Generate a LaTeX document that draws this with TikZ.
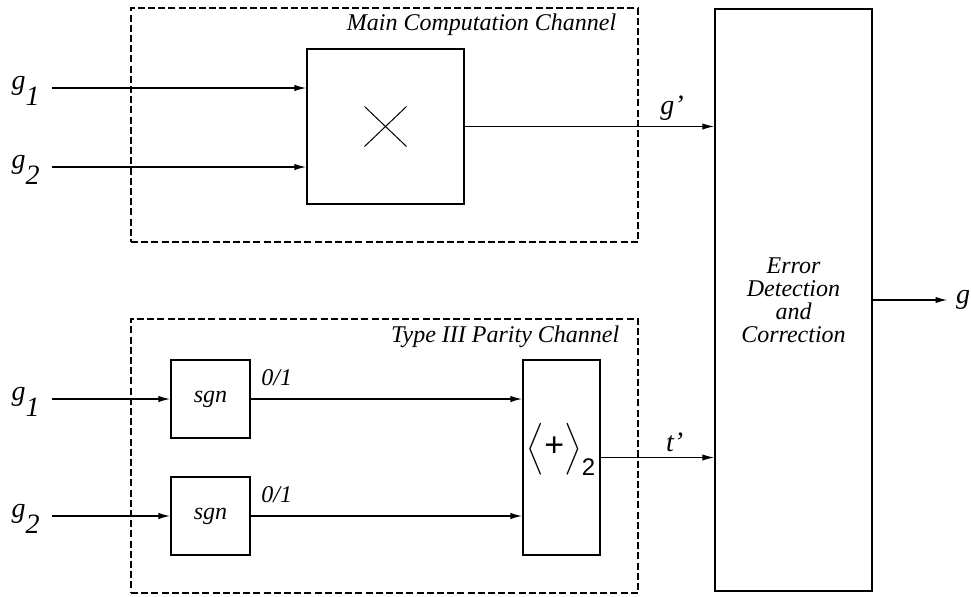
\documentclass[tikz,border=0pt]{standalone}
\usepackage{amsmath}
\usepackage{fontspec}
\setmainfont{Liberation Serif}
\setsansfont{Liberation Sans}
\usetikzlibrary{arrows.meta,positioning}

\begin{document}
\begin{tikzpicture}[
  x=0.5pt, y=-0.5pt,
  font=\fontsize{12}{11.5}\selectfont\itshape,
  box/.style={draw, line width=0.6pt, inner sep=0pt, align=center},
  chan/.style={draw, line width=0.7pt, dash pattern=on 3.5pt off 1.6pt, inner sep=0pt},
  title/.style={anchor=base east, inner sep=0pt},
  sig/.style={inner sep=0pt, font=\fontsize{14}{14}\selectfont\itshape},
  bit/.style={anchor=base west, inner sep=0pt, xshift=5pt, yshift=7pt},
  arrow/.style={-{Latex[length=6pt,width=3.2pt]}, line width=0.8pt}
]
\useasboundingbox (0,0) rectangle (971,596);

% the two channels
\node[chan, minimum width=253.5pt, minimum height=117pt] (mainch) at (384.5,125) {};
\node[chan, minimum width=253.5pt, minimum height=137pt] (parch) at (384.5,456) {};
\node[title] (maintitle) at ([shift={(-22,23)}]mainch.north east) {Main Computation Channel};
\node[title] (partitle) at ([shift={(-19,24)}]parch.north east) {Type III Parity Channel};

% blocks
\node[box, minimum width=78.5pt, minimum height=77.5pt,
  path picture={\draw[line width=0.5pt] (path picture bounding box.center)
    ++(-10.5pt,-10pt) -- ++(21pt,20pt) ++(-21pt,0pt) -- ++(21pt,-20pt);}]
  (mult) at (385.5,126.5) {};
\node[box, minimum width=78.5pt, minimum height=291pt] (edc) at (793.5,300)
  {Error\\Detection\\and\\Correction};
\node[box, minimum width=39.5pt, minimum height=39pt] (sgn1) at (210.5,399) {sgn};
\node[box, minimum width=39.5pt, minimum height=39pt] (sgn2) at (210.5,516) {sgn};
\node[box, minimum width=38.5pt, minimum height=97.5pt,
  font=\fontsize{14}{14}\selectfont\sffamily\upshape] (xor) at (561.5,457.5)
  {\raisebox{4pt}[\height][\depth]{$\Bigl\langle\text{\fontsize{17}{17}\selectfont +}\Bigr\rangle_{\text{\fontsize{12}{12}\selectfont 2}}$}};

% inputs
\coordinate (in1) at (52,88);
\coordinate (in2) at (52,167);
\coordinate (in3) at (52,399);
\coordinate (in4) at (52,516);
\node[sig, left=6pt of in1, yshift=-1.5pt] (lg1) {g\raisebox{-0.55em}{1}};
\node[sig, left=6pt of in2, yshift=-1.5pt] (lg2) {g\raisebox{-0.55em}{2}};
\node[sig, left=6pt of in3, yshift=-1.5pt] (lg3) {g\raisebox{-0.55em}{1}};
\node[sig, left=6pt of in4, yshift=-1.5pt] (lg4) {g\raisebox{-0.55em}{2}};

\draw[arrow] (in1) -- (in1 -| mult.west);
\draw[arrow] (in2) -- (in2 -| mult.west);
\draw[arrow] (in3) -- (sgn1.west);
\draw[arrow] (in4) -- (sgn2.west);

\draw[arrow] (sgn1.east) -- node[bit, pos=0] {0/1} (sgn1.east -| xor.west);
\draw[arrow] (sgn2.east) -- node[bit, pos=0] {0/1} (sgn2.east -| xor.west);

% into the error block
\draw[arrow] (mult.east) -- node[sig, pos=0.83, above, inner sep=2.5pt] {g’} (mult.east -| edc.west);
\draw[arrow] (xor.east) -- node[sig, pos=0.65, above, inner sep=2.5pt] {t’} (xor.east -| edc.west);

\node[sig, right=41.5pt of edc] (gout) {g};
\draw[arrow, shorten >=4pt] (edc.east) -- (gout.west);

\end{tikzpicture}
\end{document}
